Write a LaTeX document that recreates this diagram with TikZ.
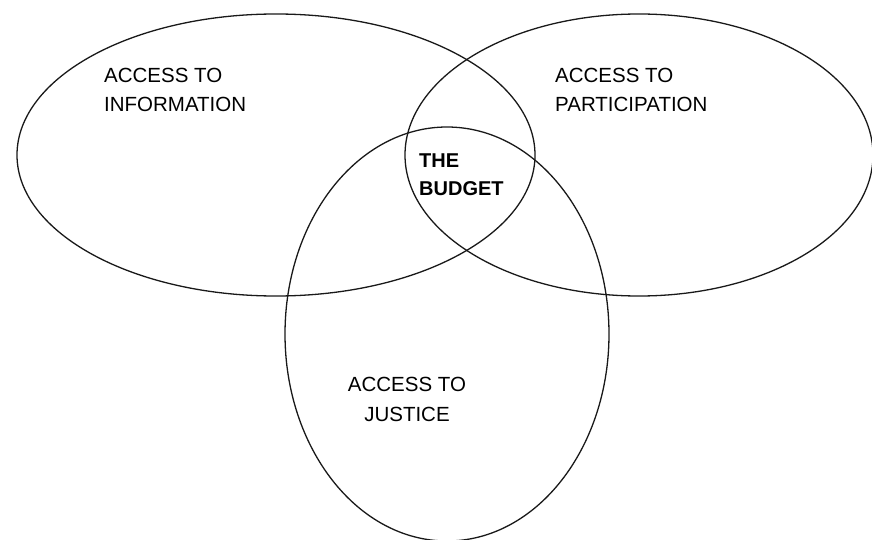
\documentclass[tikz,border=0pt]{standalone}
\usepackage{fontspec}
\setmainfont{Liberation Sans}
\begin{document}
\begin{tikzpicture}[x=1pt,y=-1pt]
\tikzset{
  ring/.style={draw=black!90, line width=1.3pt},
  lbl/.style={font=\fontsize{20.5}{28.5}\selectfont, inner sep=0pt, align=left, anchor=north west},
  lblc/.style={font=\fontsize{20.5}{30}\selectfont, inner sep=0pt, align=center, anchor=north},
}
\useasboundingbox (0,0) rectangle (872,540);
\begin{scope}
\clip (0,0) rectangle (872,540);
\draw[ring] (276,155) ellipse [x radius=259, y radius=141];
\draw[ring] (639,155) ellipse [x radius=234, y radius=141];
\draw[ring] (447,334) ellipse [x radius=162, y radius=207];
\end{scope}
\node[lbl] (info) at (104,68) {ACCESS TO\\INFORMATION};
\node[lbl] (part) at (555,68) {ACCESS TO\\PARTICIPATION};
\node[lbl, font=\bfseries\fontsize{20}{28}\selectfont] (budget) at (419,154) {THE\\BUDGET};
\node[lblc] (just) at (407,377) {ACCESS TO\\JUSTICE};
\end{tikzpicture}
\end{document}
